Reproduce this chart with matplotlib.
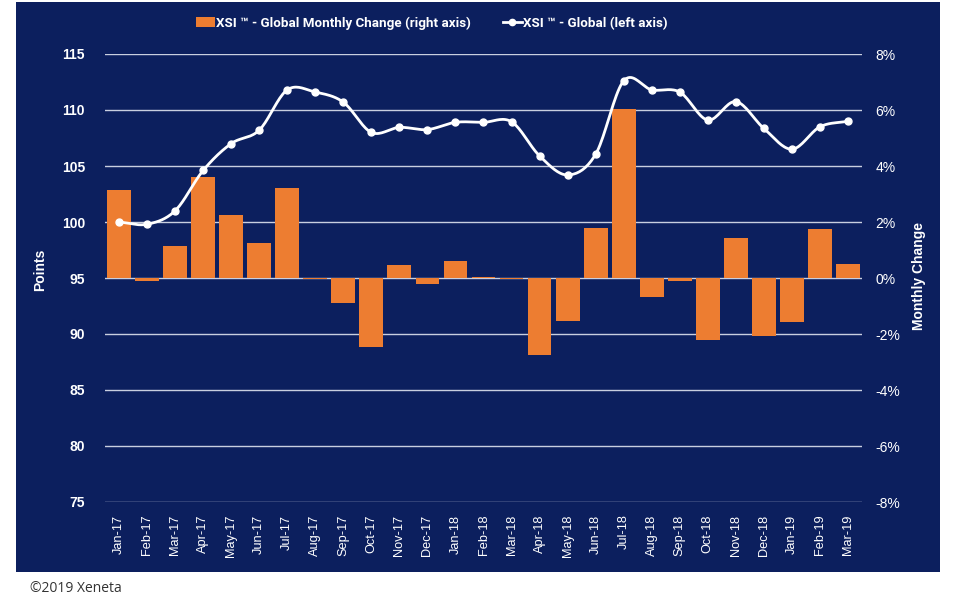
import numpy as np
import matplotlib
matplotlib.use("Agg")
import matplotlib.pyplot as plt
from matplotlib.patches import Rectangle
from matplotlib.lines import Line2D
from matplotlib.ticker import FuncFormatter

months = ["Jan-17", "Feb-17", "Mar-17", "Apr-17", "May-17", "Jun-17", "Jul-17", "Aug-17",
          "Sep-17", "Oct-17", "Nov-17", "Dec-17", "Jan-18", "Feb-18", "Mar-18", "Apr-18",
          "May-18", "Jun-18", "Jul-18", "Aug-18", "Sep-18", "Oct-18", "Nov-18", "Dec-18",
          "Jan-19", "Feb-19", "Mar-19"]
xsi_global = [100.0, 99.8, 101.0, 104.6, 107.0, 108.2, 111.8, 111.6, 110.7, 108.0, 108.45, 108.25,
              108.9, 108.9, 108.95, 105.9, 104.2, 106.05, 112.6, 111.8, 111.6, 109.1, 110.75, 108.35,
              106.5, 108.5, 109.0]
monthly_change = [3.14, -0.1, 1.14, 3.6, 2.26, 1.24, 3.2, -0.02, -0.88, -2.48, 0.46, -0.21,
                  0.61, 0.05, -0.05, -2.74, -1.54, 1.8, 6.05, -0.69, -0.11, -2.2, 1.42, -2.06,
                  -1.58, 1.75, 0.51]
left_ticks = [75, 80, 85, 90, 95, 100, 105, 110, 115]
right_ticks = [-8, -6, -4, -2, 0, 2, 4, 6, 8]

NAVY = "#0c1f5e"
ORANGE = "#ed7d31"
GRID = "#c9cfe0"
FONT = ["Liberation Sans", "DejaVu Sans"]

W, H = 958, 609
fig = plt.figure(figsize=(W / 100, H / 100), dpi=100)
fig.patch.set_facecolor("white")
bg = Rectangle((16 / W, 1 - 572 / H), (940 - 16) / W, (572 - 2) / H,
               transform=fig.transFigure, facecolor=NAVY, edgecolor="none", zorder=-10)
fig.add_artist(bg)

L, R, T, B = 105, 862, 54, 502
ax = fig.add_axes([L / W, 1 - B / H, (R - L) / W, (B - T) / H])
ax.set_facecolor("none")
ax2 = ax.twinx()
x = np.arange(len(months))

# bars on main axes (right-side y axis)
ax.bar(x, monthly_change, width=0.85, color=ORANGE, zorder=2)
ax.set_ylim(-8, 8)
ax.set_xlim(-0.5, len(months) - 0.5)
ax.set_yticks(right_ticks)
ax.yaxis.tick_right()
ax.yaxis.set_label_position("right")
ax.yaxis.set_major_formatter(FuncFormatter(lambda v, p: f"{int(v)}%"))
ax.grid(axis="y", color=GRID, lw=1.0, zorder=0)
ax.set_axisbelow(True)
for s in ax.spines.values():
    s.set_visible(False)
ax.tick_params(axis="y", length=0, pad=9.5, labelcolor="white", labelsize=10)
for lab in ax.get_yticklabels():
    lab.set_family(FONT)
ax.set_xticks(x)
ax.set_xticklabels(months, rotation=90, color="white", fontsize=9.2, family=FONT)
ax.tick_params(axis="x", length=0, pad=9)
ax.set_ylabel("Monthly Change", color="white", fontsize=10, fontweight="bold", family=FONT)
ax.yaxis.set_label_coords((912 - L) / (R - L), (B - 276) / (B - T))

# line on twin axes (left-side y axis)
ax2.set_ylim(75, 115)
ax2.set_yticks(left_ticks)
ax2.yaxis.tick_left()
ax2.yaxis.set_label_position("left")
for s in ax2.spines.values():
    s.set_visible(False)
ax2.tick_params(axis="y", length=0, pad=14.4, labelcolor="white", labelsize=10)
for lab in ax2.get_yticklabels():
    lab.set_family(FONT)
    lab.set_fontweight("bold")
ax2.set_ylabel("Points", color="white", fontsize=10, fontweight="bold", family=FONT)
ax2.yaxis.set_label_coords((47 - L) / (R - L), (B - 270) / (B - T))

# smooth curve (Catmull-Rom) through the data points
xs = np.asarray(x, float)
ys = np.asarray(xsi_global, float)
px = np.concatenate([[2 * xs[0] - xs[1]], xs, [2 * xs[-1] - xs[-2]]])
py = np.concatenate([[2 * ys[0] - ys[1]], ys, [2 * ys[-1] - ys[-2]]])
cx, cy = [], []
t = np.linspace(0, 1, 20)
for i in range(1, len(px) - 2):
    p0, p1, p2, p3 = py[i - 1], py[i], py[i + 1], py[i + 2]
    q0, q1, q2, q3 = px[i - 1], px[i], px[i + 1], px[i + 2]
    cy.append(0.5 * ((2 * p1) + (-p0 + p2) * t + (2 * p0 - 5 * p1 + 4 * p2 - p3) * t ** 2 + (-p0 + 3 * p1 - 3 * p2 + p3) * t ** 3))
    cx.append(0.5 * ((2 * q1) + (-q0 + q2) * t + (2 * q0 - 5 * q1 + 4 * q2 - q3) * t ** 2 + (-q0 + 3 * q1 - 3 * q2 + q3) * t ** 3))
ax2.plot(np.concatenate(cx), np.concatenate(cy), color="white", lw=2, zorder=3)
ax2.plot(xs, ys, "o", color="white", ms=5, zorder=4)

# legend
handles = [Rectangle((0, 0), 1, 1, facecolor=ORANGE, edgecolor="none"),
           Line2D([0], [0], color="white", lw=2, marker="o", ms=4.5)]
leg = fig.legend(handles, ["XSI \u2122 - Global Monthly Change (right axis)", "XSI \u2122 - Global (left axis)"],
                 loc="center", bbox_to_anchor=(432 / W, 1 - 23 / H), ncol=2, frameon=False,
                 prop={"family": ["Roboto", "DejaVu Sans"], "weight": "bold", "size": 9.6},
                 handlelength=1.4, handletextpad=0.1, columnspacing=2.4)
for txt in leg.get_texts():
    txt.set_color("white")

fig.text(30 / W, 1 - 589 / H, "\u00a92019 Xeneta", fontsize=10, color="#333333",
         family=["Open Sans", "DejaVu Sans"], va="center", ha="left")

fig.savefig("out.png", dpi=100, facecolor="white")
